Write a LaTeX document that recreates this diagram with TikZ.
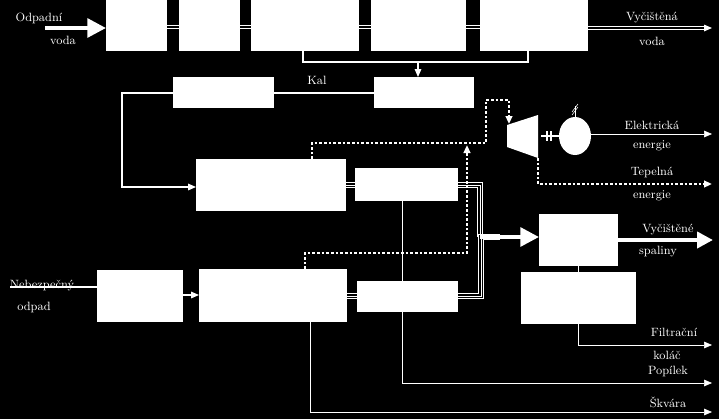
\documentclass[tikz,border=0pt]{standalone}
\usetikzlibrary{arrows.meta}
\tikzset{
  blok/.style={draw=white,fill=white,minimum width=#1,inner sep=0pt},
  tok/.style={white,line width=0.8pt},
  dvoj/.style={white,double=black,double distance=1.6pt,line width=0.7pt},
  troj/.style={white,double=black,double distance=3pt,line width=0.7pt,postaction={draw=white,line width=0.6pt}},
  teplo/.style={white,line width=2pt,dash pattern=on 2pt off 1.5pt},
  popis/.style={white,font=\small,inner sep=1pt}
}
\begin{document}
\begin{tikzpicture}[x=0.75pt,y=-0.75pt,>={Triangle[length=6pt,width=5pt]}]
      \fill[black] (0,0) rectangle (719,419);
      \useasboundingbox (0,0) rectangle (719,419);
      % horni rada - cisteni vody
      \fill[white] (106,0) rectangle (167,51) coordinate (b1);
      \fill[white] (179,0) rectangle (240,51);
      \fill[white] (251,0) rectangle (359,51);
      \fill[white] (371,0) rectangle (466,51);
      \fill[white] (480,0) rectangle (588,51);
      \foreach \a/\b in {167/179,240/251,359/371,466/480}
      \draw[dvoj] (\a,27) -- (\b,27);
      \draw[white,line width=3pt,-{Triangle[length=14pt,width=14pt]}] (45,28) -- (106,28);
      \node[popis] at (39,18) {Odpadní};
      \node[popis] at (63,40) {voda};
      \draw[dvoj,->] (588,28) -- (712,28);
      \node[popis] at (652,18) {Vyčištěná};
      \node[popis] at (652,41) {voda};
      % kal
      \fill[white] (173,77) rectangle (274,108);
      \fill[white] (374,77) rectangle (474,108);
      \draw[tok] (303,51) |- (528,62) -- (528,51);
      \draw[tok,->] (418,62) -- (418,77);
      \draw[tok] (274,93) -- (374,93);
      \node[popis] at (317,80) {Kal};
      \draw[tok,->] (173,93) -- (122,93) |- (196,187);
      % spalovani
      \fill[white] (196,159) rectangle (346,211);
      \fill[white] (355,168) rectangle (458,201);
      \fill[white] (97,270) rectangle (183,322);
      \fill[white] (199,269) rectangle (347,322);
      \fill[white] (357,281) rectangle (458,312);
      \fill[white] (539,214) rectangle (618,266);
      \fill[white] (521,272) rectangle (636,324);
      \draw[troj] (346,185) -- (355,185);
      \draw[troj] (347,296) -- (357,296);
      \draw[troj] (458,185) -- (480,185) -- (480,237);
      \draw[troj] (458,296) -- (481,296) -- (481,237) -- (500,237);
      \draw[white,line width=3pt,-{Triangle[length=14pt,width=14pt]}] (480,237) -- (539,237);
      \draw[white,line width=3pt,-{Triangle[length=12pt,width=12pt]}] (618,240) -- (713,240);
      \node[popis] at (668,230) {Vyčištěné};
      \node[popis] at (658,252) {spaliny};
      \draw[tok] (10,287) -- (97,287);
      \node[popis] at (42,286) {Nebezpečný};
      \node[popis] at (34,307) {odpad};
      \draw[tok,->] (183,295) -- (199,295);
      % turbina a generator
      \fill[white] (507,125) -- (538,115) -- (538,158) -- (507,147) -- cycle;
      \draw[white,line width=1pt] (541,136) -- (559,136);
      \draw[white,line width=1pt] (547,131) -- (547,141) (551,131) -- (551,141);
      \fill[white] (575,136) ellipse (16 and 19);
      \draw[white,thin] (575,117) -- (575,106);
      \draw[white,thin] (572,112) -- (578,104) (572,115) -- (578,107);
      \draw[white,->] (591,134) -- (712,134);
      \node[popis] at (652,125) {Elektrická};
      \node[popis] at (652,146) {energie};
      \draw[teplo,->] (312,159) |- (486,143) |- (509,100) -- (509,124);
      \draw[teplo,->] (305,269) |- (467,253) -- (467,145);
      \draw[teplo,->] (538,158) |- (712,184);
      \node[popis] at (652,172) {Tepelná};
      \node[popis] at (652,196) {energie};
      % odpady
      \draw[white,thin] (578,266) -- (578,272);
      \draw[white,thin,->] (578,324) |- (712,345);
      \node[popis] at (674,332) {Filtrační};
      \node[popis] at (667,355) {koláč};
      \draw[white,thin] (402,201) -- (402,281);
      \draw[white,thin,->] (402,312) |- (712,383);
      \node[popis] at (668,371) {Popílek};
      \draw[white,thin,->] (310,322) |- (712,412);
      \node[popis] at (668,402) {Škvára};
    \end{tikzpicture}
\end{document}
